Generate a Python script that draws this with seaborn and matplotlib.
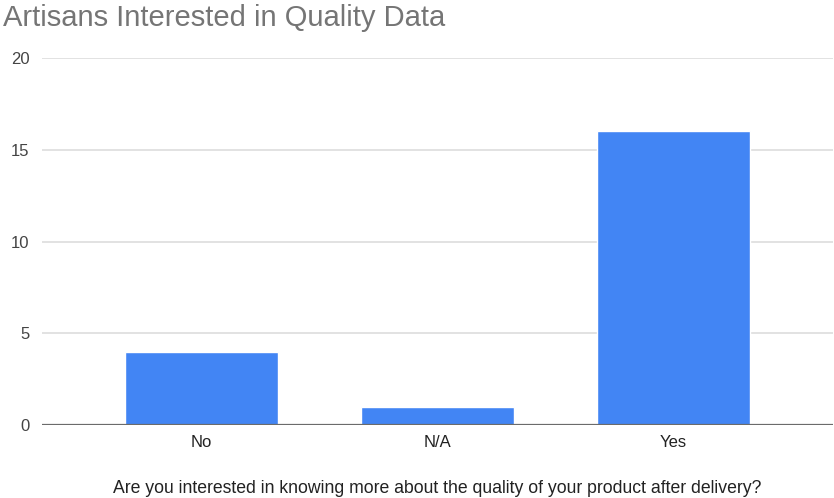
import matplotlib
matplotlib.use("Agg")
import matplotlib.pyplot as plt
import seaborn as sns
import pandas as pd

categories = ["No", "N/A", "Yes"]
counts = [4, 1, 16]
y_ticks = [0, 5, 10, 15, 20]

title = "Artisans Interested in Quality Data"
x_title = "Are you interested in knowing more about the quality of your product after delivery?"

sns.set_theme(style="white")
plt.rcParams["font.family"] = ["Liberation Sans", "DejaVu Sans"]

df = pd.DataFrame({"answer": categories, "count": counts})

fig = plt.figure(figsize=(8.34, 4.98), dpi=100)
ax = fig.add_axes([42 / 834, 1 - 425 / 498, (833 - 42) / 834, (425 - 58) / 498])

sns.barplot(data=df, x="answer", y="count", color="#4285F4", saturation=1,
            width=0.648, ax=ax, zorder=3)

ax.set_ylim(0, 20)
ax.set_xlim(-0.676, 2.676)
ax.set_yticks(y_ticks)
ax.set_yticklabels([str(t) for t in y_ticks])

for t in y_ticks[1:]:
    ax.axhline(t, color="#dadada", lw=1.1, zorder=1)
ax.axhline(0, color="#6b6b6b", lw=1.6, zorder=4)

for s in ax.spines.values():
    s.set_visible(False)

ax.tick_params(axis="y", length=0, pad=9, labelsize=12, labelcolor="#444444")
ax.tick_params(axis="x", length=0, pad=7, labelsize=12, labelcolor="#222222")

ax.set_xlabel(x_title, fontsize=12.7, color="#222222", labelpad=22)
ax.set_ylabel("")

fig.text(3 / 834, 1 - 4 / 498, title, fontsize=21, color="#757575",
         ha="left", va="top")

fig.savefig("out.png", dpi=100)
